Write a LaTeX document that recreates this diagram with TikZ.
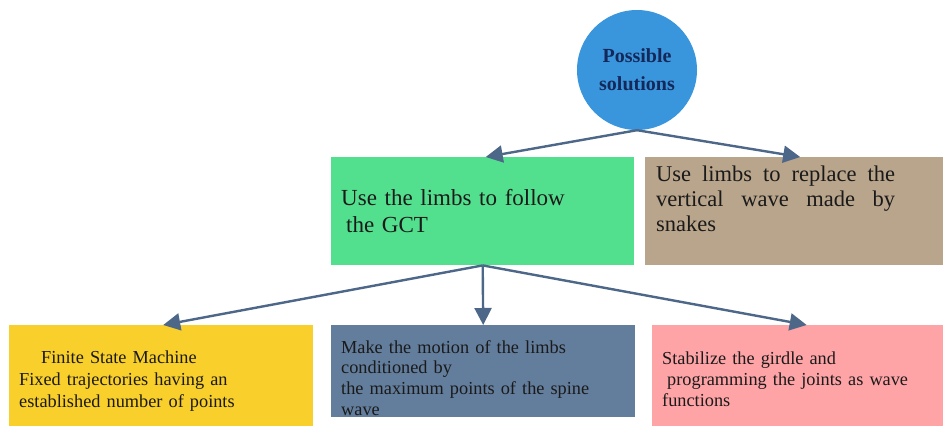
\documentclass[tikz,border=0pt]{standalone}
\usepackage{fontspec}
\setmainfont{Liberation Serif}
\usetikzlibrary{arrows.meta,calc}

\definecolor{rootblue}{HTML}{3A96DC}
\definecolor{roottext}{HTML}{14285A}
\definecolor{gctgreen}{HTML}{53E08E}
\definecolor{snaketan}{HTML}{B9A58B}
\definecolor{fsmyellow}{HTML}{F9CF2B}
\definecolor{spineblue}{HTML}{637D9C}
\definecolor{wavepink}{HTML}{FFA4A6}
\definecolor{linkcol}{HTML}{4D6788}
\definecolor{inktext}{HTML}{1A1A1A}

\tikzset{
  panel/.style={rectangle, draw=none, inner sep=0pt, anchor=north west},
  boxtext/.style={anchor=base west, inner sep=0pt, text=inktext,
    text width=280pt, align=left},
  bigtext/.style={boxtext, font=\fontsize{23}{26.5}\selectfont},
  link/.style={draw=linkcol, line width=2.4pt,
    -{Triangle[length=17pt,width=17pt]}}
}

\begin{document}
\begin{tikzpicture}[x=1pt,y=-1pt]
  \useasboundingbox (0,0) rectangle (943,426);

  % root idea
  \node[circle, fill=rootblue, minimum size=120pt, inner sep=0pt, align=center,
        text=roottext, font=\fontsize{20}{28}\selectfont\bfseries]
        (root) at (637,70) {Possible\\solutions};

  % second level
  \node[panel, fill=gctgreen, minimum width=303pt, minimum height=108pt]
        (gct) at (331,157) {};
  \node[panel, fill=snaketan, minimum width=298pt, minimum height=108pt]
        (snake) at (645,157) {};

  % third level
  \node[panel, fill=fsmyellow, minimum width=304pt, minimum height=101pt]
        (fsm) at (9,325) {};
  \node[panel, fill=spineblue, minimum width=304pt, minimum height=92pt]
        (spine) at (331,325) {};
  \node[panel, fill=wavepink, minimum width=291pt, minimum height=101pt]
        (wave) at (652,325) {};

  % texts
  \node[bigtext] (gcttxt) at (341,205.5)
        {Use the limbs to follow\\\hspace*{5pt}the GCT};
  \node[boxtext, text width=239pt, align=justify,
        font=\fontsize{22.5}{25}\selectfont] (snaketxt) at (656,181.5)
        {Use limbs to replace the\linebreak vertical wave made by\linebreak snakes};
  \node[boxtext, font=\fontsize{18.3}{22}\selectfont] (fsmtxt) at (19,363)
        {\hspace*{22pt}Finite State Machine\\Fixed trajectories having an\\established number of points};
  \node[boxtext, font=\fontsize{18.3}{20.7}\selectfont] (spinetxt) at (341,353)
        {Make the motion of the limbs\\conditioned by\\the maximum points of the spine\\wave};
  \node[boxtext, font=\fontsize{18.3}{21}\selectfont] (wavetxt) at (662,364)
        {Stabilize the girdle and\\\hspace*{5pt}programming the joints as wave\\functions};

  % connectors
  \draw[link] (root.south) -- ($(gct.north)+(3,0)$);
  \draw[link] (root.south) -- ($(snake.north)+(6,0)$);
  \draw[link] (gct.south) -- ($(fsm.north)+(2,0)$);
  \draw[link] (gct.south) -- (spine.north);
  \draw[link] (gct.south) -- ($(wave.north)+(9,0)$);
\end{tikzpicture}
\end{document}
